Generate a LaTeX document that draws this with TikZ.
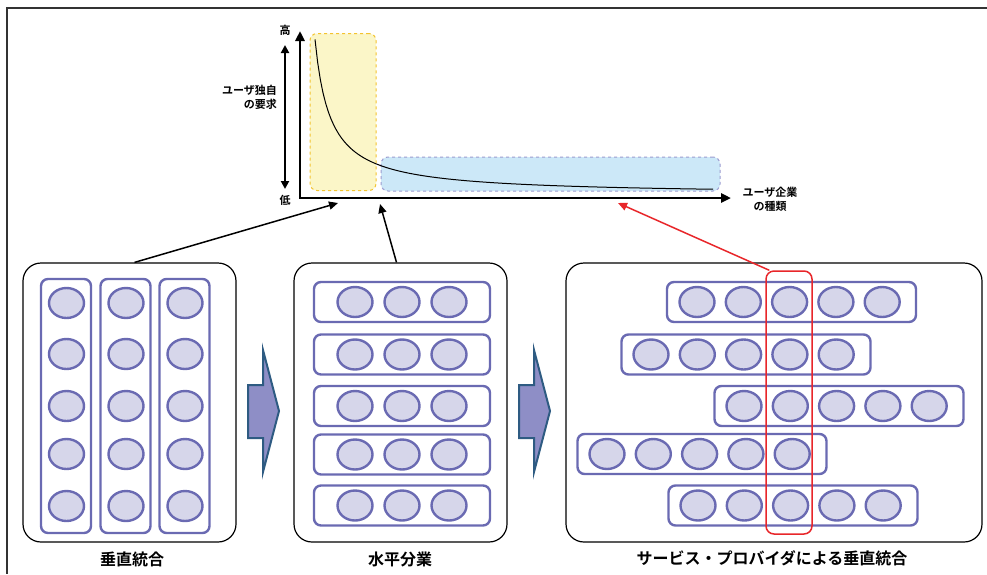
\documentclass[tikz,border=0pt]{standalone}
\usepackage{fontspec}
\newfontfamily\jp{Noto Sans CJK JP}[BoldFont={Noto Sans CJK JP Bold}]
\usetikzlibrary{arrows.meta,shapes.geometric,calc}

\definecolor{cellfill}{HTML}{D6D6EA}
\definecolor{cellline}{HTML}{6A6AB2}
\definecolor{arrowfill}{HTML}{8E8EC6}
\definecolor{arrowline}{HTML}{2E5B82}
\definecolor{zoneY}{HTML}{FBF6C8}
\definecolor{zoneYline}{HTML}{F3C32F}
\definecolor{zoneB}{HTML}{CCE8F8}
\definecolor{zoneBline}{HTML}{9C9CD0}
\definecolor{hl}{HTML}{E8262A}

\begin{document}
\begin{tikzpicture}[x=1pt,y=-1pt,
  cellnode/.style={ellipse,draw=cellline,fill=cellfill,line width=2.4pt,
    minimum width=35pt,minimum height=30pt,inner sep=0pt},
  groupbox/.style={rectangle,rounded corners=7pt,draw=cellline,line width=2.4pt,inner sep=0pt},
  panelbox/.style={rectangle,rounded corners=18pt,draw=black,line width=1.2pt,
    minimum width=213pt,minimum height=279pt,inner sep=0pt},
  captiontext/.style={font=\jp\bfseries\fontsize{16}{18}\selectfont,inner sep=0pt},
  axislabel/.style={font=\jp\bfseries\fontsize{11}{14}\selectfont,inner sep=0pt},
  bigarrow/.style={draw=arrowline,fill=arrowfill,line width=2pt,line join=miter},
  linkarrow/.style={line width=1.5pt,-{Triangle[length=9pt,width=8pt]}},
  zonebox/.style={rectangle,rounded corners=7pt,dashed,line width=1pt,inner sep=0pt},
]
\useasboundingbox (0,0) rectangle (987,574);

% outer frame (top and left edges)
\draw[line width=2pt,draw=black!80] (987,8) -- (7,8) -- (7,574);

% ---- chart: requirement level vs. kind of user company ----
\node[zonebox,draw=zoneYline,fill=zoneY,minimum width=66pt,minimum height=157pt] (zy) at (343,112) {};
\node[zonebox,draw=zoneBline,fill=zoneB,minimum width=339pt,minimum height=34pt] (zb) at (550.5,174) {};
\draw[line width=1pt] plot[domain=315:713,samples=150] (\x,{195-2381/(\x-299.7)});

\coordinate (O) at (300,198);
\coordinate (ytip) at (300,31);
\coordinate (xtip) at (731,198);
\draw[line width=2.5pt,{Triangle[length=10pt,width=9pt]}-{Triangle[length=10pt,width=9pt]}]
  (ytip) -- (O) -- (xtip);

\coordinate (rtop) at (285,45);
\coordinate (rbot) at (285,189);
\draw[line width=2pt,{Triangle[length=8pt,width=8pt]}-{Triangle[length=8pt,width=8pt]}] (rtop) -- (rbot);

\node[axislabel] (hi) at (285,30) {高};
\node[axislabel] (lo) at (285,200) {低};
\node[axislabel,anchor=east,align=right] (ylab) at (277,97) {ユーザ独自\\の要求};
\node[axislabel,align=center] (xlab) at (770,199) {ユーザ企業\\の種類};

% ---- panel 1: vertical integration ----
\node[panelbox] (P1) at (129.5,402.5) {};
\foreach \i/\x in {1/66,2/125.5,3/184.5} {
  \node[groupbox,minimum width=50pt,minimum height=254pt] (col\i) at (\x,406) {};
  \foreach \j/\y in {1/303,2/354,3/406,4/454,5/506}
    \node[cellnode] (a\i\j) at (\x+0.5,\y) {};
}

% ---- panel 2: horizontal division ----
\node[panelbox] (P2) at (400.5,402.5) {};
\foreach \j/\y in {1/302,2/354.5,3/406,4/454.5,5/505.5} {
  \node[groupbox,minimum width=176pt,minimum height=40pt] (row\j) at (402,\y) {};
  \foreach \k/\x in {1/355,2/402,3/449}
    \node[cellnode] (b\j\k) at (\x,\y) {};
}

% ---- panel 3: vertical integration by service provider ----
\node[panelbox,minimum width=416pt] (P3) at (774,402.5) {};
\foreach \j/\s/\y/\c in {1/697/302/791.5,2/651/354.5/746,3/744/406/839,4/607/454/702,5/698/505.5/793} {
  \node[groupbox,minimum width=249pt,minimum height=40pt] (srow\j) at (\c,\y) {};
  \foreach \k in {0,...,4}
    \node[cellnode] (s\j\k) at ({\s+46.3*\k},\y) {};
}
\node[draw=hl,line width=1.5pt,rounded corners=8pt,minimum width=46pt,minimum height=263pt,inner sep=0pt]
  (pick) at (789,402.5) {};

% ---- transition arrows ----
\draw[bigarrow] (248,385) -- (263,385) -- (263,350) -- (279,411) -- (263,472) -- (263,438) -- (248,438) -- cycle;
\draw[bigarrow] (519,385) -- (534,385) -- (534,350) -- (550,411) -- (534,472) -- (534,438) -- (519,438) -- cycle;

% ---- links from panels to the chart ----
\coordinate (t1) at (338,203);
\coordinate (t2) at (380,204);
\coordinate (t3) at (618,203);
\draw[linkarrow] ($(P1.north)+(5,0)$) -- (t1);
\draw[linkarrow] ($(P2.north)+(-4,0)$) -- (t2);
\draw[linkarrow,draw=hl,fill=hl] ($(pick.north west)+(4,0)$) -- (t3);

% ---- captions ----
\node[captiontext] (c1) at (132,559) {垂直統合};
\node[captiontext] (c2) at (400,559) {水平分業};
\node[captiontext] (c3) at (772,558) {サービス・プロバイダによる垂直統合};
\end{tikzpicture}
\end{document}
